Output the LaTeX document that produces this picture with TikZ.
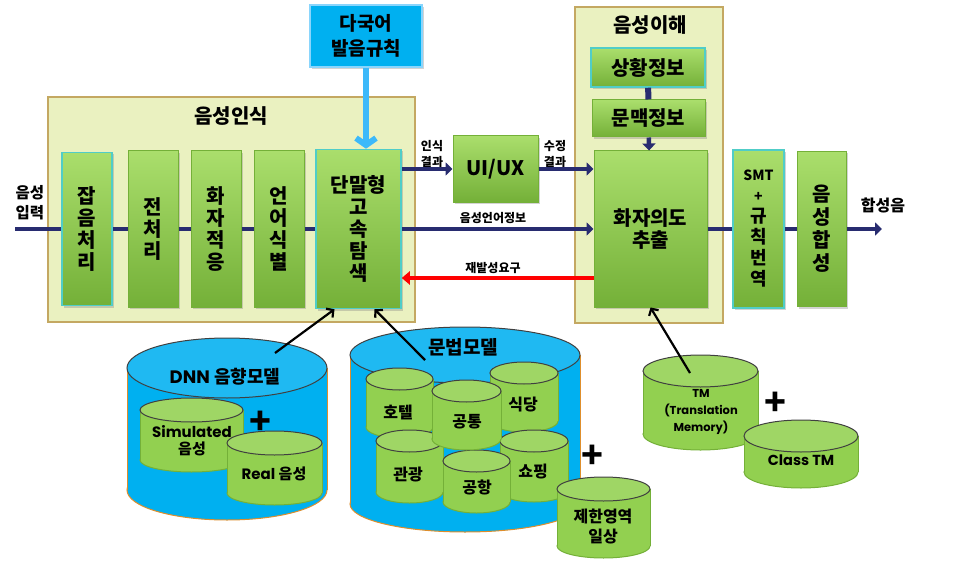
\documentclass[tikz,border=0pt]{standalone}
\usepackage{fontspec}
\setmainfont{Noto Sans CJK KR}[BoldFont={Noto Sans CJK KR Black}]
\newfontfamily\geo{Poppins}
\usetikzlibrary{arrows.meta,shadows}

\definecolor{navy}{RGB}{40,44,112}
\definecolor{leaf}{RGB}{146,208,80}
\definecolor{leaftop}{RGB}{170,222,108}
\definecolor{leafdark}{RGB}{116,176,56}
\definecolor{turq}{RGB}{80,205,200}
\definecolor{pale}{RGB}{234,241,192}
\definecolor{boxrim}{RGB}{196,168,98}
\definecolor{sky}{RGB}{0,176,240}
\definecolor{skyline}{RGB}{60,185,250}
\definecolor{ember}{RGB}{222,142,44}

% drum: name, x left, x right, y top, y bottom, rim radius, fill, rim colour
\newcommand{\drum}[8]{%
  \fill[#7, draw=#8, line width=1pt] ({(#2+#3)/2},{#5-#6}) ellipse [x radius={(#3-#2)/2*1pt}, y radius={#6*1pt}];
  \fill[#7] (#2,{#4+#6}) rectangle (#3,{#5-#6});
  \draw[#8, line width=1pt] (#2,{#4+#6}) -- (#2,{#5-#6}) (#3,{#4+#6}) -- (#3,{#5-#6});
  \filldraw[fill=#7!88!white, draw=black!75, line width=1pt] ({(#2+#3)/2},{#4+#6}) ellipse [x radius={(#3-#2)/2*1pt}, y radius={#6*1pt}];
  \coordinate (#1) at ({(#2+#3)/2},{(#4+#5)/2});
}

\begin{document}
\begin{tikzpicture}[x=1pt,y=-1pt]
  \useasboundingbox (0,0) rectangle (963,572);
  \tikzstyle{area}=[draw=boxrim, fill=pale, line width=1.2pt, inner sep=0pt]
  \tikzstyle{block}=[top color=leaftop, bottom color=leafdark, draw=leafdark, line width=1pt, inner sep=0pt, align=center,
                     font=\bfseries\fontsize{20}{22}\selectfont, drop shadow={opacity=.35, shadow xshift=2pt, shadow yshift=-2pt}]
  \tikzstyle{rim}=[draw=turq, line width=1.5pt]
  \tikzstyle{title}=[inner sep=0pt, font=\bfseries\fontsize{20}{22}\selectfont]
  \tikzstyle{note}=[inner sep=0pt, align=center, font=\bfseries\fontsize{12}{16}\selectfont]
  \tikzstyle{tag}=[inner sep=0pt, align=center, font=\bfseries\fontsize{16}{18}\selectfont]
  \tikzstyle{plus}=[inner sep=0pt, font=\bfseries\fontsize{36}{36}\selectfont]
  \tikzstyle{flow}=[draw=navy, line width=4.5pt]
  \tikzstyle{go}=[flow, -{Triangle[length=7pt,width=13pt]}]
  \tikzstyle{alarm}=[draw=red, line width=4pt, -{Triangle[length=8pt,width=13pt]}]
  \tikzstyle{feed}=[draw=skyline, line width=6pt, -{Straight Barb[length=7pt,width=20pt]}]
  \tikzstyle{link}=[draw=black, line width=2.2pt, -{Straight Barb[length=5pt,width=11pt]}]

  % areas
  \node[area, minimum width=367pt, minimum height=225pt] (recog) at (231.5,209.5) {};
  \node[area, minimum width=148pt, minimum height=316pt] (under) at (649,165) {};
  \node[title] (recogT) at (231,116) {음성인식};
  \node[title] (underT) at (650,25) {음성이해};

  \node[block, rim, minimum width=50pt, minimum height=153pt] (noise)  at (87,229)    {잡\\음\\처\\리};
  \node[block, minimum width=50pt, minimum height=156pt]      (prep)   at (153,229)   {전\\처\\리};
  \node[block, minimum width=50pt, minimum height=156pt]      (adapt)  at (216,229)   {화\\자\\적\\응};
  \node[block, minimum width=50pt, minimum height=156pt]      (langid) at (279,229)   {언\\어\\식\\별};
  \node[block, rim, minimum width=85pt, minimum height=159pt] (search) at (358.5,229) {단말형\\고\\속\\탐\\색};
  \node[block, minimum width=85pt, minimum height=66pt, font=\bfseries\fontsize{20}{22}\selectfont] (ui) at (495.5,169) {UI/UX};
  \node[block, rim, minimum width=114pt, minimum height=39pt] (situ)   at (648,67.5)  {상황정보};
  \node[block, minimum width=113pt, minimum height=37pt]      (ctx)    at (648.5,118.5) {문맥정보};
  \node[block, minimum width=113pt, minimum height=156pt]     (intent) at (650.5,229) {화자의도\\추출};
  \node[block, rim, minimum width=51pt, minimum height=158pt, font=\bfseries\fontsize{18}{21}\selectfont] (smt) at (758.5,229)
       {{\fontsize{14}{14}\selectfont SMT}\\{\fontsize{14}{14}\selectfont +}\\규\\칙\\번\\역};
  \node[block, minimum width=49pt, minimum height=155pt, font=\bfseries\fontsize{20}{23}\selectfont] (synth) at (821.5,229) {음\\성\\합\\성};
  \node[block, top color=sky, bottom color=sky, draw=skyline!60!white, line width=2pt, minimum width=112pt, minimum height=62pt,
        font=\bfseries\fontsize{19}{25}\selectfont] (rules) at (366,36) {다국어\\발음규칙};

  \node[tag, font=\bfseries\fontsize{15.5}{20}\selectfont] (inL) at (30,203) {음성\\입력};
  \node[tag] (outL) at (883,205) {합성음};
  \node[note] (recL)  at (432,154) {인식\\결과};
  \node[note] (fixL)  at (555,154) {수정\\결과};
  \node[note] (infoL) at (493,218) {음성언어정보};
  \node[note] (redoL) at (493,268) {재발성요구};

  \coordinate (in)  at (15,229);
  \coordinate (out) at (882,229);
  \draw[flow] (in) -- (noise);
  \draw[flow] (noise) -- (prep);
  \draw[flow] (prep) -- (adapt);
  \draw[flow] (adapt) -- (langid);
  \draw[flow] (langid) -- (search);
  \draw[go] (search) -- (intent);
  \draw[go] (search.east |- ui) -- (ui);
  \draw[go] (ui) -- (ui -| intent.west);
  \draw[alarm] ([yshift=-49pt]intent.west) -- ([yshift=-49pt]intent.west -| search.east);
  \draw[flow, line width=6pt] (situ) -- (ctx);
  \draw[go] (ctx) -- (intent);
  \draw[flow] (intent) -- (smt);
  \draw[flow] (smt) -- (synth);
  \draw[go] (synth) -- (out);
  \draw[feed] (rules) -- (rules |- search.north);

  % models
  \drum{dnn}{127}{327}{338}{520}{30}{sky}{ember}
  \drum{sim}{140}{243}{398}{472}{12}{leaf}{leafdark}
  \drum{real}{227}{322}{431}{505}{12}{leaf}{leafdark}
  \node[tag, font=\bfseries\fontsize{18}{22}\selectfont] (dnnL) at (225,377) {{\geo DNN} 음향모델};
  \node[tag, font=\bfseries\fontsize{15}{17}\selectfont] (simL) at (192,441) {{\geo Simulated}\\음성};
  \node[tag, font=\bfseries\fontsize{15}{17}\selectfont] (realL) at (274,474) {{\geo Real} 음성};
  \node[plus] (plusA) at (260,423) {+};

  \drum{gram}{350}{580}{327}{532}{28}{sky}{ember}
  \node[tag, font=\bfseries\fontsize{19}{22}\selectfont] (gramL) at (463,347) {문법모델};
  \drum{hotel}{366}{433}{368}{438}{11}{leaf}{leafdark}
  \drum{food}{490}{558}{362}{432}{11}{leaf}{leafdark}
  \drum{tour}{376}{443}{430}{503}{11}{leaf}{leafdark}
  \drum{shop}{500}{568}{430}{502}{11}{leaf}{leafdark}
  \drum{port}{443}{510}{450}{513}{11}{leaf}{leafdark}
  \drum{common}{432}{501}{380}{450}{11}{leaf}{leafdark}
  \node[tag] (hotelL)  at (398,412) {호텔};
  \node[tag] (foodL)   at (523,405) {식당};
  \node[tag] (tourL)   at (408,475) {관광};
  \node[tag] (shopL)   at (533,472) {쇼핑};
  \node[tag] (portL)   at (477,487) {공항};
  \node[tag] (commonL) at (467,422) {공통};
  \node[plus] (plusB) at (592,457) {+};
  \drum{daily}{557}{650}{477}{558}{12}{leaf}{leafdark}
  \node[tag, font=\bfseries\fontsize{16}{20}\selectfont] (dailyL) at (603,527) {제한영역\\일상};

  \drum{tm}{643}{758}{355}{450}{16}{leaf}{leafdark}
  \node[tag, font=\geo\bfseries\fontsize{11.5}{17}\selectfont] (tmL) at (701,412) {TM\\(Translation\\Memory)};
  \node[plus] (plusC) at (775,404) {+};
  \drum{cls}{744}{858}{420}{488}{16}{leaf}{leafdark}
  \node[tag, font=\geo\bfseries\fontsize{14.5}{18}\selectfont] (clsL) at (801,460) {Class TM};

  \coordinate (dnnTip)  at (275,353);
  \coordinate (gramTip) at (425,360);
  \coordinate (tmTip)   at (690,373);
  \draw[link] (dnnTip) -- ([xshift=-24pt]search.south);
  \draw[link] (gramTip) -- ([xshift=16pt]search.south);
  \draw[link] (tmTip) -- (intent.south);
\end{tikzpicture}
\end{document}
